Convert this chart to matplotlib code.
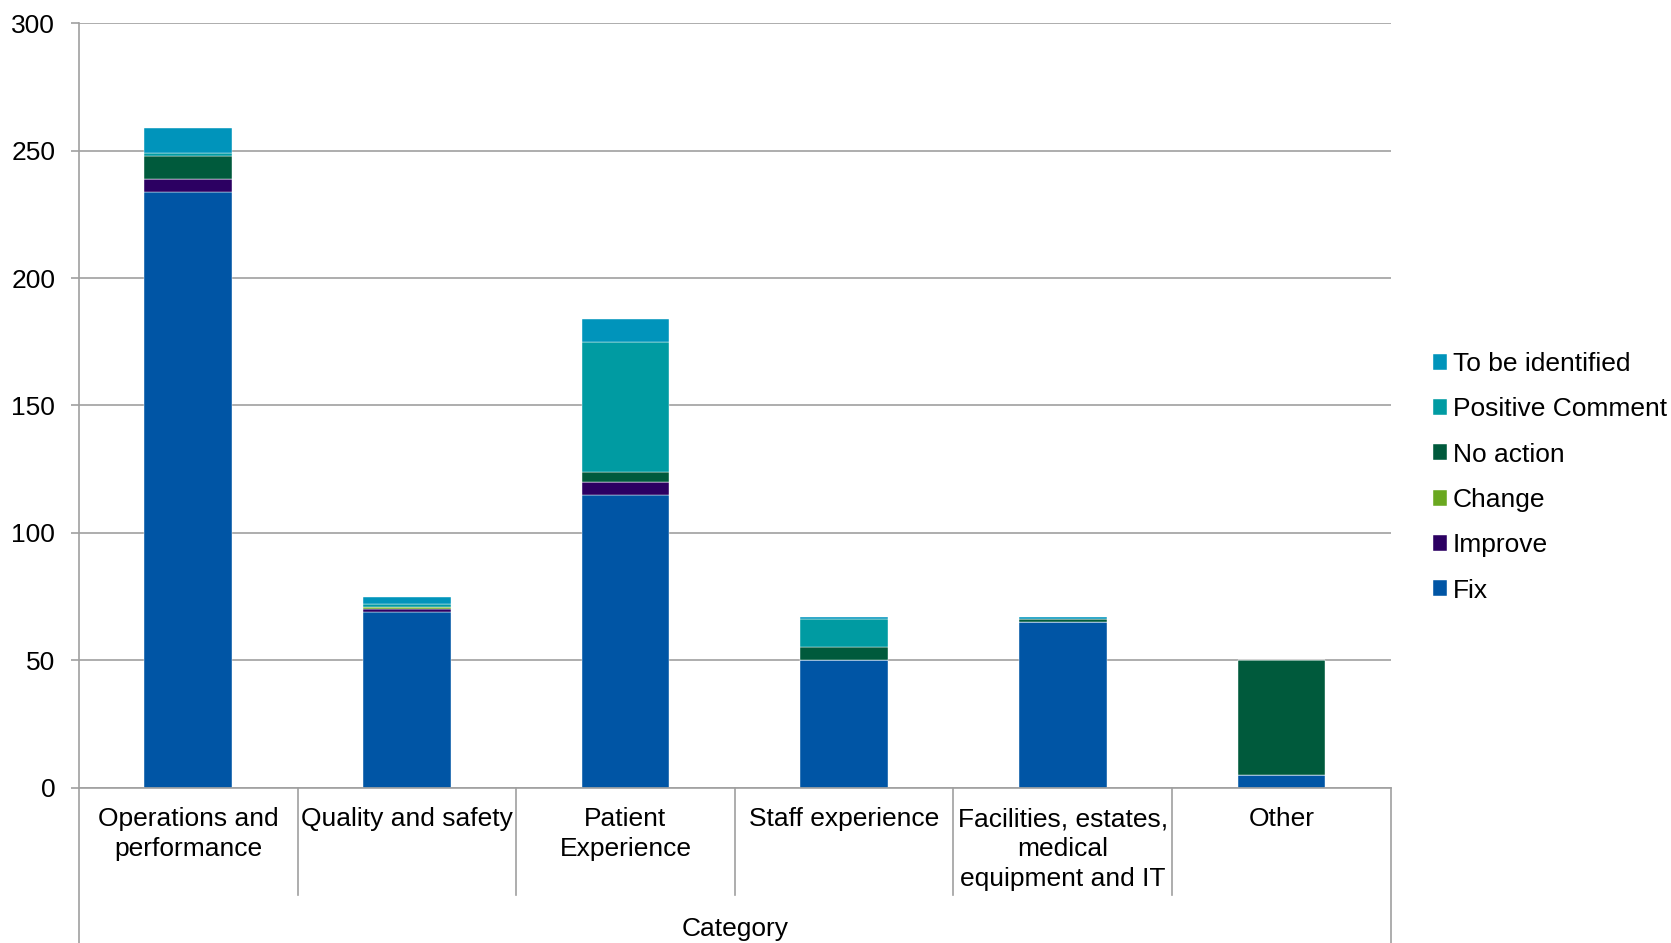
"""Stacked bar chart: actions by category"""

import matplotlib.pyplot as plt
import numpy as np

plt.rcParams["font.family"] = ["Liberation Sans", "DejaVu Sans"]

categories = ["Operations and\nperformance", "Quality and safety",
              "Patient\nExperience", "Staff experience",
              "Facilities, estates,\nmedical\nequipment and IT", "Other"]

fix = [234, 69, 115, 50, 65, 5]
improve = [5, 1, 5, 0, 0, 0]
change = [0, 1, 0, 0, 0, 0]
no_action = [9, 0, 4, 5, 1, 45]
positive_comment = [1, 1, 51, 11, 0, 0]
to_be_identified = [10, 3, 9, 1, 1, 0]

series = [
    ("Fix", fix, "#0055A5"),
    ("Improve", improve, "#2C0062"),
    ("Change", change, "#6AA820"),
    ("No action", no_action, "#005A3C"),
    ("Positive Comment", positive_comment, "#009BA2"),
    ("To be identified", to_be_identified, "#0094BB"),
]

grey = "#A0A0A0"
fs = 19

fig = plt.figure(figsize=(16.71, 9.43), dpi=100)
ax = fig.add_axes([0.0472, 0.1648, 0.7851, 0.8104])

x = np.arange(len(categories))
bottom = np.zeros(len(categories))
handles = []
for name, values, color in series:
    bars = ax.bar(x, values, width=0.4, bottom=bottom, color=color,
                  edgecolor="white", linewidth=0.3, label=name)
    bottom += np.array(values)
    handles.append(bars)

ax.set_xlim(-0.5, len(categories) - 0.5)
ax.set_ylim(0, 300)
ax.set_yticks(range(0, 301, 50))
ax.yaxis.grid(True, color=grey, linewidth=1.2)
ax.set_axisbelow(True)
ax.tick_params(axis="y", length=6, width=1.2, color=grey, pad=11,
               labelsize=fs)
ax.set_xticks([])

for side in ["top", "right"]:
    ax.spines[side].set_visible(False)
for side in ["left", "bottom"]:
    ax.spines[side].set_color(grey)
    ax.spines[side].set_linewidth(1.2)

# category separators below the axis
trans = ax.get_xaxis_transform()
for b in np.arange(-0.5, len(categories), 1.0):
    outer = b in (-0.5, len(categories) - 0.5)
    ax.plot([b, b], [0, -0.215 if outer else -0.1405], color=grey,
            linewidth=1.2, transform=trans, clip_on=False)

for xi, label in zip(x, categories):
    ax.text(xi, -0.026, label, transform=trans, ha="center", va="top",
            fontsize=fs, linespacing=1.31)

ax.text(2.5, -0.1855, "Category", transform=trans, ha="center",
        va="center", fontsize=fs)

ax.legend(handles=handles[::-1], loc="center left",
          bbox_to_anchor=(1.024, 0.406), frameon=False, fontsize=fs,
          handlelength=0.55, handleheight=0.55, handletextpad=0.2,
          labelspacing=0.81, borderaxespad=0)

plt.savefig("out.png")
plt.close()
